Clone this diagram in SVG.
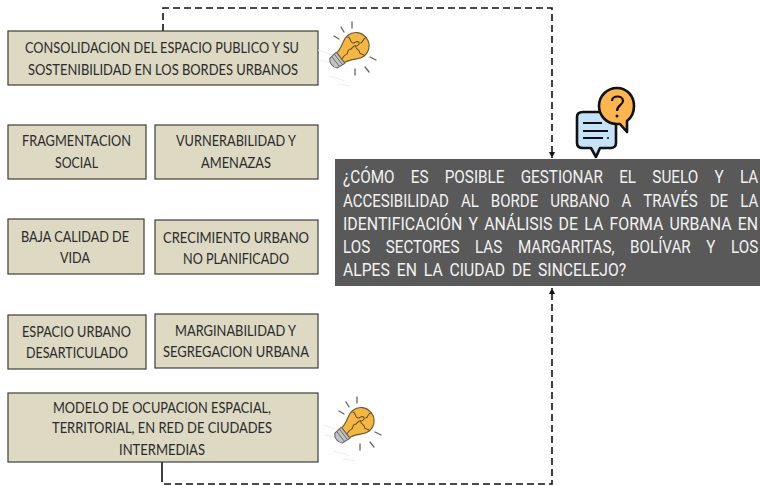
<svg xmlns="http://www.w3.org/2000/svg" width="760" height="486" viewBox="0 0 760 486">
<style>
.box{fill:#ddd9c3;stroke:#3f3f37;stroke-width:1.2}
.t{font-family:Lato,"Liberation Sans",sans-serif;font-size:15.5px;fill:#2b2b2b;text-anchor:start}
.q{font-family:Roboto,"Liberation Sans",sans-serif;font-size:18px;fill:#f2f2f2}
.c{fill:none;stroke:#111;stroke-width:1.6;stroke-dasharray:7 4}
.ray{fill:none;stroke:#66665f;stroke-width:1.3;stroke-linecap:round}
.pz{fill:none;stroke:#5b4a20;stroke-width:1.1}
</style>
<defs>
<marker id="a" markerWidth="8" markerHeight="8" refX="6" refY="3" orient="auto" markerUnits="userSpaceOnUse"><path d="M0 0L6 3L0 6Z" fill="#111"/></marker>
<g id="bulb">
<g stroke="#eeeeee" stroke-width="1" fill="none"><path d="M-35 2L-20 7M-33 12L-22 15M-24 28L-8 33M-15 36L-3 38"/></g>
<path class="ray" d="M-12-21L-9-16M-1-26V-20M-19-12L-14-9M2 21V27M12 19L16 24M17 9L23 12"/>
<g transform="rotate(52) scale(.88)">
<path d="M0-19C-9-19-15-12-15-4C-15 3-10 6-8 14L-7 18H7L8 14C10 6 15 3 15-4C15-12 9-19 0-19Z" fill="#f5b642" stroke="#6a5a34" stroke-width="1.3"/>
<path class="pz" d="M-14-3C-10-6-8-1-5-3C-2-5-5-8-2-9C1-10 2-6 0-4C2-1 6-5 8-3C11-1 11-5 15-5M0-19C-2-15 2-14 1-10M0-4C-3-1 1 1-1 4C-3 7 2 7 1 11C0 14 2 15 2 18"/>
<path d="M-8 18H8L7 28C3 32-3 32-7 28Z" fill="#c0c4c7" stroke="#66665f" stroke-width="1.2"/>
<path d="M-8 21H8M-7 25H7" stroke="#66665f" stroke-width="1" fill="none"/>
</g>
</g>
</defs>
<g id="connectors">
<path class="c" d="M163 31V8H552V158" marker-end="url(#a)"/>
<path d="M162 462V475" fill="none" stroke="#111" stroke-width="1.6"/>
<path class="c" d="M162 475V484H552V288" marker-end="url(#a)"/>
</g>
<g id="n1"><rect class="box" x="8" y="31" width="310" height="54"/><text class="t" x="25" y="53" textLength="274" lengthAdjust="spacingAndGlyphs">CONSOLIDACION DEL ESPACIO PUBLICO Y SU</text><text class="t" x="28" y="75" textLength="270" lengthAdjust="spacingAndGlyphs">SOSTENIBILIDAD EN LOS BORDES URBANOS</text></g>
<g id="n2"><rect class="box" x="8" y="125" width="138" height="54"/><text class="t" x="22" y="146" textLength="109" lengthAdjust="spacingAndGlyphs">FRAGMENTACION</text><text class="t" x="55" y="168" textLength="43" lengthAdjust="spacingAndGlyphs">SOCIAL</text></g>
<g id="n3"><rect class="box" x="155" y="125" width="163" height="54"/><text class="t" x="176" y="146" textLength="120" lengthAdjust="spacingAndGlyphs">VURNERABILIDAD Y</text><text class="t" x="201" y="168" textLength="70" lengthAdjust="spacingAndGlyphs">AMENAZAS</text></g>
<g id="n4"><rect class="box" x="8" y="219" width="136" height="55"/><text class="t" x="21" y="242" textLength="108" lengthAdjust="spacingAndGlyphs">BAJA CALIDAD DE</text><text class="t" x="60" y="263" textLength="30" lengthAdjust="spacingAndGlyphs">VIDA</text></g>
<g id="n5"><rect class="box" x="155" y="220" width="163" height="54"/><text class="t" x="163" y="243" textLength="146" lengthAdjust="spacingAndGlyphs">CRECIMIENTO URBANO</text><text class="t" x="183" y="264" textLength="106" lengthAdjust="spacingAndGlyphs">NO PLANIFICADO</text></g>
<g id="n6"><rect class="box" x="8" y="315" width="138" height="54"/><text class="t" x="22" y="337" textLength="109" lengthAdjust="spacingAndGlyphs">ESPACIO URBANO</text><text class="t" x="26" y="358" textLength="102" lengthAdjust="spacingAndGlyphs">DESARTICULADO</text></g>
<g id="n7"><rect class="box" x="155" y="314" width="163" height="54"/><text class="t" x="175" y="336" textLength="121" lengthAdjust="spacingAndGlyphs">MARGINABILIDAD Y</text><text class="t" x="163" y="357" textLength="146" lengthAdjust="spacingAndGlyphs">SEGREGACION URBANA</text></g>
<g id="n8"><rect class="box" x="8" y="393" width="310" height="69"/><text class="t" x="53" y="413" textLength="218" lengthAdjust="spacingAndGlyphs">MODELO DE OCUPACION ESPACIAL,</text><text class="t" x="52" y="433" textLength="220" lengthAdjust="spacingAndGlyphs">TERRITORIAL, EN RED DE CIUDADES</text><text class="t" x="119" y="455" textLength="86" lengthAdjust="spacingAndGlyphs">INTERMEDIAS</text></g>
<g id="q"><rect x="335" y="159" width="425" height="127" fill="#595959"/>
<text class="q" transform="translate(343 183) scale(.8 1)" textLength="519" lengthAdjust="spacingAndGlyphs" word-spacing="14.7">¿CÓMO ES POSIBLE GESTIONAR EL SUELO Y LA</text>
<text class="q" transform="translate(343 207) scale(.8 1)" textLength="519" lengthAdjust="spacingAndGlyphs" word-spacing="10">ACCESIBILIDAD AL BORDE URBANO A TRAVÉS DE LA</text>
<text class="q" transform="translate(343 230) scale(.8 1)" textLength="519" lengthAdjust="spacingAndGlyphs" word-spacing="2.5">IDENTIFICACIÓN Y ANÁLISIS DE LA FORMA URBANA  EN</text>
<text class="q" transform="translate(343 253) scale(.8 1)" textLength="519" lengthAdjust="spacingAndGlyphs" word-spacing="14">LOS SECTORES LAS MARGARITAS, BOLÍVAR Y LOS</text>
<text class="q" transform="translate(343 276) scale(.8 1)" textLength="354" lengthAdjust="spacingAndGlyphs" word-spacing="3.5">ALPES EN LA CIUDAD DE SINCELEJO?</text></g>
<g id="icon-top"><use href="#bulb" x="353" y="48"/></g>
<g id="icon-bottom"><use href="#bulb" x="358" y="423"/></g>
<g id="icon-chat">
<path d="M583 112H611C614 112 616 114 616 117V143C616 146 614 148 611 148H600L596 157L591 148H583C579 148 577 146 577 143V117C577 114 579 112 583 112Z" fill="#c5e3f8" stroke="#111" stroke-width="2.6" stroke-linejoin="round"/>
<path d="M583 123H602M583 131H608M583 138H603" stroke="#111" stroke-width="2.2" fill="none"/><circle cx="608" cy="138" r="1" fill="#111"/>
<path d="M617 88C607 88 599 96 599 106C599 116 607 124 617 124H620L627 132L627 121C631 118 634 112 634 106C634 96 627 88 617 88Z" fill="#fdb54e" stroke="#111" stroke-width="2.6" stroke-linejoin="round"/>
<path d="M612 101C612 95 623 95 623 101C623 105 617 105 617 111" fill="none" stroke="#111" stroke-width="2.2"/><circle cx="617" cy="116" r="1.5" fill="#111"/>
</g>
</svg>
